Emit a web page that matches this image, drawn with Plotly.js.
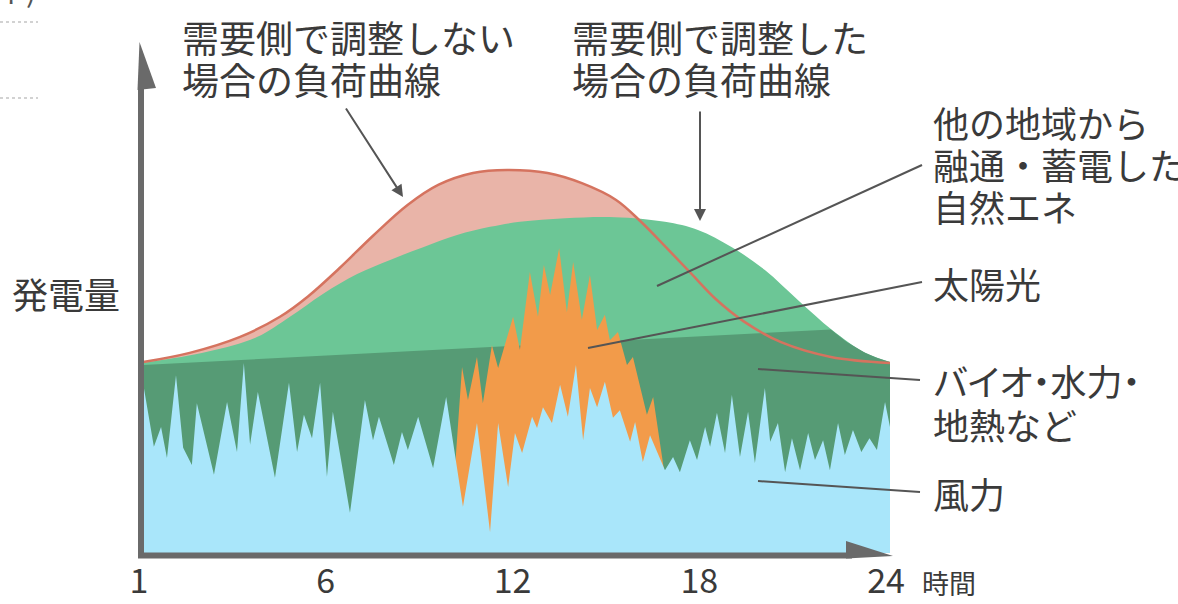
<!DOCTYPE html>
<html>
<head>
<meta charset="utf-8">
<script src="https://cdn.plot.ly/plotly-3.0.1.min.js"></script>
<style>
html,body{margin:0;padding:0;background:#fff;}
#chart{width:1178px;height:604px;}
g.annotation[data-index="8"] text{font-feature-settings:"palt" 1;}
</style>
</head>
<body>
<div id="chart"></div>
<script>
// ---- data (hours on x, relative output on y) ----
const tickHours = [0, 6, 12, 18, 24];
const tickLabels = ["1", "6", "12", "18", "24"];

// load curve without demand-side adjustment
const redHours = [0,1.5,3.1,4.4,5.3,6.3,7.4,8.5,9.5,10.6,11.7,13.0,14.1,15.2,16.0,16.8,17.6,18.4,19.3,20.5,22.1,24];
const redLoad  = [37.6,39.4,42.5,46.5,50.5,56.0,62.5,68.5,72.5,74.8,75.4,74.8,72.8,69.5,65.2,60.2,55.1,50.0,45.6,41.5,38.6,37.4];

// load curve with demand-side adjustment (renewables shared / stored)
const greenHours = [0,2.06,3.66,4.72,5.78,6.88,7.94,9.00,10.09,11.15,12.11,13.56,15.17,16.77,17.83,18.92,19.98,21.04,22.14,23.20,24];
const greenLoad  = [37.4,39.6,42.5,46.5,51.0,54.9,57.7,60.2,62.6,64.2,65.2,65.9,66.1,65.2,63.6,60.2,55.7,49.8,43.9,39.4,37.6];

// biomass / hydro / geothermal top
const bioHours = [0,22.1,22.6,23.2,23.6,24];
const bioTop   = [37.0,44.0,41.6,39.4,38.4,37.6];

// solar top
const solarHours = [10.02,10.25,10.44,10.73,10.92,11.21,11.41,11.89,12.11,12.43,12.69,12.88,13.08,13.37,13.62,13.82,14.10,14.36,14.59,14.84,15.00,15.26,15.55,15.74,16.19,16.39,16.74];
const solarTop   = [16.3,36.6,30.1,38.6,29.5,40.9,36.4,46.5,40.0,55.3,46.5,56.7,50.8,60.0,47.4,57.3,45.9,54.7,43.9,46.9,41.9,43.5,37.0,38.6,27.2,30.7,16.3];

// wind
const windHours = [0.00,0.35,0.58,0.77,1.06,1.29,1.57,1.73,2.28,2.70,3.02,3.24,3.44,3.69,4.24,4.69,4.95,5.17,5.43,5.69,5.91,6.10,6.65,7.13,7.39,7.58,8.06,8.32,8.51,8.84,9.32,9.74,10.28,10.73,11.15,11.41,11.73,11.95,12.18,12.50,12.66,12.85,13.14,13.40,13.65,13.91,14.14,14.36,14.59,14.84,15.10,15.32,15.65,15.81,16.06,16.29,16.77,17.03,17.25,17.57,17.80,18.06,18.22,18.44,18.70,18.92,19.18,19.44,19.66,19.98,20.15,20.40,20.63,20.85,21.11,21.37,21.59,21.85,22.07,22.33,22.55,22.81,23.08,23.34,23.58,23.84,24.00];
const windTop   = [33.5,20.9,24.8,18.7,35.0,20.7,17.3,29.5,15.4,29.7,19.9,37.4,21.3,31.7,14.8,33.5,19.9,27.2,22.6,33.5,15.0,27.8,7.9,30.1,22.2,26.8,17.3,23.8,20.3,26.8,16.7,30.7,9.1,25.6,4.1,25.6,13.0,23.6,19.7,26.8,24.6,28.7,25.6,33.1,26.8,37.0,22.2,32.5,28.7,33.7,26.6,28.1,21.9,25.8,17.9,23.2,16.3,18.9,15.9,22.2,18.3,24.8,20.9,27.6,19.7,31.1,18.9,27.8,17.7,32.5,21.9,25.6,15.9,22.6,16.3,23.6,18.3,22.2,16.3,25.6,19.3,24.2,19.9,22.6,20.3,29.7,24.8];

// ---- styling ----
const FONT = '"Noto Sans CJK JP", "Noto Sans CJK SC", sans-serif';
const TXT = '#3a3a3a';
const LEAD = '#555555';
const AXIS = '#6a6a6a';

const W = 1178, H = 604;
const M = {l: 143, r: 288, t: 45, b: 51};
const PW = W - M.l - M.r, PH = H - M.t - M.b;
const px = x => (x - M.l) / PW;
const py = y => (H - M.b - y) / PH;

const traces = [
  {x: redHours, y: redLoad, type: 'scatter', mode: 'lines', fill: 'tozeroy',
   fillcolor: '#e9b4a8', line: {width: 0, shape: 'spline', color: '#e9b4a8'}},
  {x: greenHours, y: greenLoad, type: 'scatter', mode: 'lines', fill: 'tozeroy',
   fillcolor: '#6cc696', line: {width: 0, shape: 'spline', color: '#6cc696'}},
  {x: bioHours, y: bioTop, type: 'scatter', mode: 'lines', fill: 'tozeroy',
   fillcolor: '#569b75', line: {width: 0, color: '#569b75'}},
  {x: solarHours, y: solarTop, type: 'scatter', mode: 'lines', fill: 'tozeroy',
   fillcolor: '#f29b4a', line: {width: 0, color: '#f29b4a'}},
  {x: windHours, y: windTop, type: 'scatter', mode: 'lines', fill: 'tozeroy',
   fillcolor: '#a9e6fa', line: {width: 0, color: '#a9e6fa'}},
  {x: redHours, y: redLoad, type: 'scatter', mode: 'lines',
   line: {width: 2.5, shape: 'spline', color: '#d5735f'}}
];

function seg(x0, y0, x1, y1, color, width, dash) {
  return {type: 'line', xref: 'paper', yref: 'paper', x0: px(x0), y0: py(y0), x1: px(x1), y1: py(y1),
          line: {color: color, width: width, dash: dash || 'solid'}, layer: 'above'};
}
function tri(pts, color) {
  const d = pts.map((p, i) => (i ? 'L' : 'M') + px(p[0]).toFixed(5) + ',' + py(p[1]).toFixed(5)).join(' ') + ' Z';
  return {type: 'path', xref: 'paper', yref: 'paper', path: d, fillcolor: color, line: {width: 0}, layer: 'above'};
}

const shapes = [
  seg(141, 558, 141, 84, AXIS, 6),
  tri([[137.5, 90], [139.5, 42], [156, 88]], AXIS),
  seg(138, 555.5, 852, 555.5, AXIS, 6),
  tri([[846, 541], [893, 556], [846, 558.5]], AXIS),
  seg(922, 165, 657, 286, LEAD, 2),
  seg(922, 282, 588, 348, LEAD, 2),
  seg(920, 380, 758, 369, LEAD, 2),
  seg(920, 492, 758, 481, LEAD, 2),
  seg(0, 22, 38, 22, '#c4c4c4', 1.5, 'dot'),
  seg(0, 98, 38, 98, '#c4c4c4', 1.5, 'dot')
];

function label(text, x, y, size, anchor) {
  return {text: text, xref: 'paper', yref: 'paper', x: px(x), y: py(y), showarrow: false,
          xanchor: anchor || 'left', yanchor: 'middle', font: {family: FONT, size: size, color: TXT}};
}
function arrow(tx, ty, sx, sy) {
  return {text: '', xref: 'paper', yref: 'paper', x: px(tx), y: py(ty), axref: 'pixel', ayref: 'pixel',
          ax: sx - tx, ay: sy - ty, showarrow: true, arrowhead: 2, arrowsize: 1.2, arrowwidth: 2,
          arrowcolor: LEAD, standoff: 0};
}

const annotations = [
  label('需要側で調整しない', 180, 37, 37),
  label('場合の負荷曲線', 180, 79, 37),
  label('需要側で調整した', 570, 37, 37),
  label('場合の負荷曲線', 570, 79, 37),
  label('他の地域から', 931, 122, 36),
  label('融通・蓄電した', 931, 164, 36),
  label('自然エネ', 931, 206, 36),
  label('太陽光', 931, 283, 36),
  label('バイオ・水力・', 909, 380, 36),
  label('地熱など', 931, 424, 36),
  label('風力', 931, 493, 36),
  label('発電量', 10, 293, 36),
  label('時間', 920, 582, 27),
  {text: 'エネ)', xref: 'paper', yref: 'paper', x: px(38), y: py(13), showarrow: false,
   xanchor: 'right', yanchor: 'bottom', font: {family: FONT, size: 30, color: '#555'}},
  arrow(403, 197, 345, 107),
  arrow(700, 221, 700, 110)
];

const layout = {
  width: W, height: H,
  margin: {l: M.l, r: M.r, t: M.t, b: M.b, pad: 0},
  paper_bgcolor: '#ffffff', plot_bgcolor: 'rgba(0,0,0,0)',
  showlegend: false, hovermode: false,
  xaxis: {range: [0, 24], tickvals: tickHours, ticktext: tickLabels, showgrid: false, zeroline: false,
          showline: false, ticks: '', ticklabelstandoff: 5, ticklabelshift: -4,
          tickfont: {family: FONT, size: 34, color: TXT}, fixedrange: true},
  yaxis: {range: [0, 100], visible: false, showgrid: false, zeroline: false, fixedrange: true},
  shapes: shapes,
  annotations: annotations
};

Plotly.newPlot('chart', traces, layout, {staticPlot: true, displayModeBar: false});
</script>
</body>
</html>
